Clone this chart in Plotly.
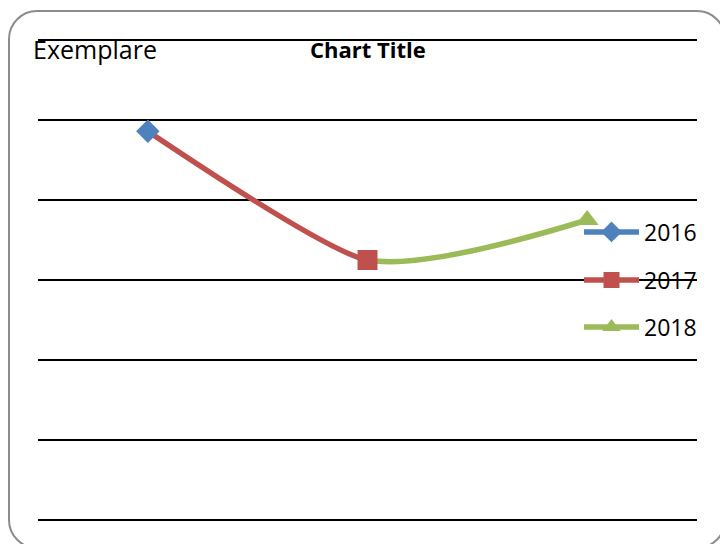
import plotly.graph_objects as go

categories = ["2016", "2017", "2018"]
values = [4.86, 3.25, 3.75]
series_names = ["2016", "2017", "2018"]
colors = ["#4F81BD", "#C0504D", "#9BBB59"]
symbols = ["diamond", "square", "triangle-up"]
marker_sizes = [18, 20, 20]
y_ticks = [0, 1, 2, 3, 4, 5, 6]

W, H = 720, 544
EPS = 0.025
YR = [y_ticks[0] - EPS, y_ticks[-1] + EPS]
SX0, SX1 = 38, 697
SY0, SY1 = 520 + EPS * 80, 40 - EPS * 80   # bottom, top (screen px)
L, R, T, B = SX0, W - SX1, SY1, H - SY0
PW, PH = W - L - R, H - T - B
FONT = "Open Sans"


def px_x(p):  # screen px -> paper
    return (p - L) / PW


def px_y(p):
    return (H - B - p) / PH


fig = go.Figure()

fig.add_trace(go.Scatter(x=categories, y=[None, None, None], showlegend=False,
                         hoverinfo="skip", xaxis="x", yaxis="y"))

fig.add_trace(go.Scatter(x=categories, y=values, mode="lines",
                         line=dict(color=colors[1], width=5.5, shape="spline", smoothing=0.5),
                         showlegend=False, hoverinfo="skip", xaxis="x2", yaxis="y2"))
fig.add_trace(go.Scatter(x=categories, y=values, mode="lines",
                         line=dict(color=colors[2], width=5.5, shape="spline", smoothing=0.8),
                         showlegend=False, hoverinfo="skip", xaxis="x3", yaxis="y3"))

legend_ids = ["legend", "legend2", "legend3"]
for i, name in enumerate(series_names):
    yv = [None] * len(categories)
    yv[i] = values[i]
    fig.add_trace(go.Scatter(
        x=categories, y=yv, mode="lines+markers", name=name,
        line=dict(color=colors[i], width=5.5),
        marker=dict(symbol=symbols[i], size=marker_sizes[i], color=colors[i]),
        cliponaxis=False, legend=legend_ids[i], xaxis="x4", yaxis="y4"))

ax_common = dict(showgrid=False, zeroline=False, showticklabels=False, ticks="",
                 showline=False, fixedrange=True)

layout = dict(
    width=W, height=H,
    margin=dict(l=L, r=R, t=T, b=B, pad=0),
    paper_bgcolor="white", plot_bgcolor="rgba(0,0,0,0)",
    font=dict(family=FONT, color="black", size=22),
    xaxis=dict(domain=[0, 1], range=[-0.5, 2.5], type="category",
               categoryarray=categories, **ax_common),
    yaxis=dict(domain=[0, 1], range=YR, tickvals=y_ticks, showgrid=True,
               gridcolor="black", gridwidth=1.6, zeroline=False,
               showticklabels=False, ticks="", showline=False, fixedrange=True),
    xaxis2=dict(domain=[0, 0.5], range=[-0.5, 1.0], type="category",
                categoryarray=categories, anchor="y2", **ax_common),
    yaxis2=dict(domain=[0, 1], range=YR, anchor="x2", **ax_common),
    xaxis3=dict(domain=[0.5, 1], range=[1.0, 2.5], type="category",
                categoryarray=categories, anchor="y3", **ax_common),
    yaxis3=dict(domain=[0, 1], range=YR, anchor="x3", **ax_common),
    xaxis4=dict(domain=[0, 1], range=[-0.5, 2.5], type="category",
                categoryarray=categories, anchor="y4", **ax_common),
    yaxis4=dict(domain=[0, 1], range=YR, anchor="x4", **ax_common),
    showlegend=True,
)

leg_y = [232, 280, 327]
for i, lid in enumerate(legend_ids):
    layout[lid] = dict(x=px_x(579), y=px_y(leg_y[i]), xanchor="left", yanchor="middle",
                       bgcolor="rgba(0,0,0,0)", borderwidth=0, itemwidth=55,
                       font=dict(family=FONT, size=23, color="black"),
                       itemclick=False, itemdoubleclick=False)

fig.update_layout(**layout)

fig.add_annotation(text="<b>Chart Title</b>", xref="paper", yref="paper",
                   x=px_x(367.5), y=px_y(49), xanchor="center", yanchor="middle",
                   showarrow=False, font=dict(family=FONT, size=22, color="black"))
fig.add_annotation(text="Exemplare", xref="paper", yref="paper",
                   x=px_x(31), y=px_y(49), xanchor="left", yanchor="middle",
                   showarrow=False, font=dict(family=FONT, size=25, color="black"))

# rounded chart-area border
l, t, r, b, rad = 9, 11, 725, 548, 28
k = 0.5523 * rad


def P(x, y):
    return f"{px_x(x):.5f},{px_y(y):.5f}"


path = (f"M {P(l + rad, t)} L {P(r - rad, t)} "
        f"C {P(r - rad + k, t)} {P(r, t + rad - k)} {P(r, t + rad)} "
        f"L {P(r, b - rad)} "
        f"C {P(r, b - rad + k)} {P(r - rad + k, b)} {P(r - rad, b)} "
        f"L {P(l + rad, b)} "
        f"C {P(l + rad - k, b)} {P(l, b - rad + k)} {P(l, b - rad)} "
        f"L {P(l, t + rad)} "
        f"C {P(l, t + rad - k)} {P(l + rad - k, t)} {P(l + rad, t)} Z")
fig.add_shape(type="path", path=path, xref="paper", yref="paper",
              line=dict(color="#8C8C8C", width=2), layer="above")

fig.write_html("out.html", config={"displayModeBar": False},
               post_script="document.body.style.margin='0';"
                           "document.body.style.overflow='hidden';")
